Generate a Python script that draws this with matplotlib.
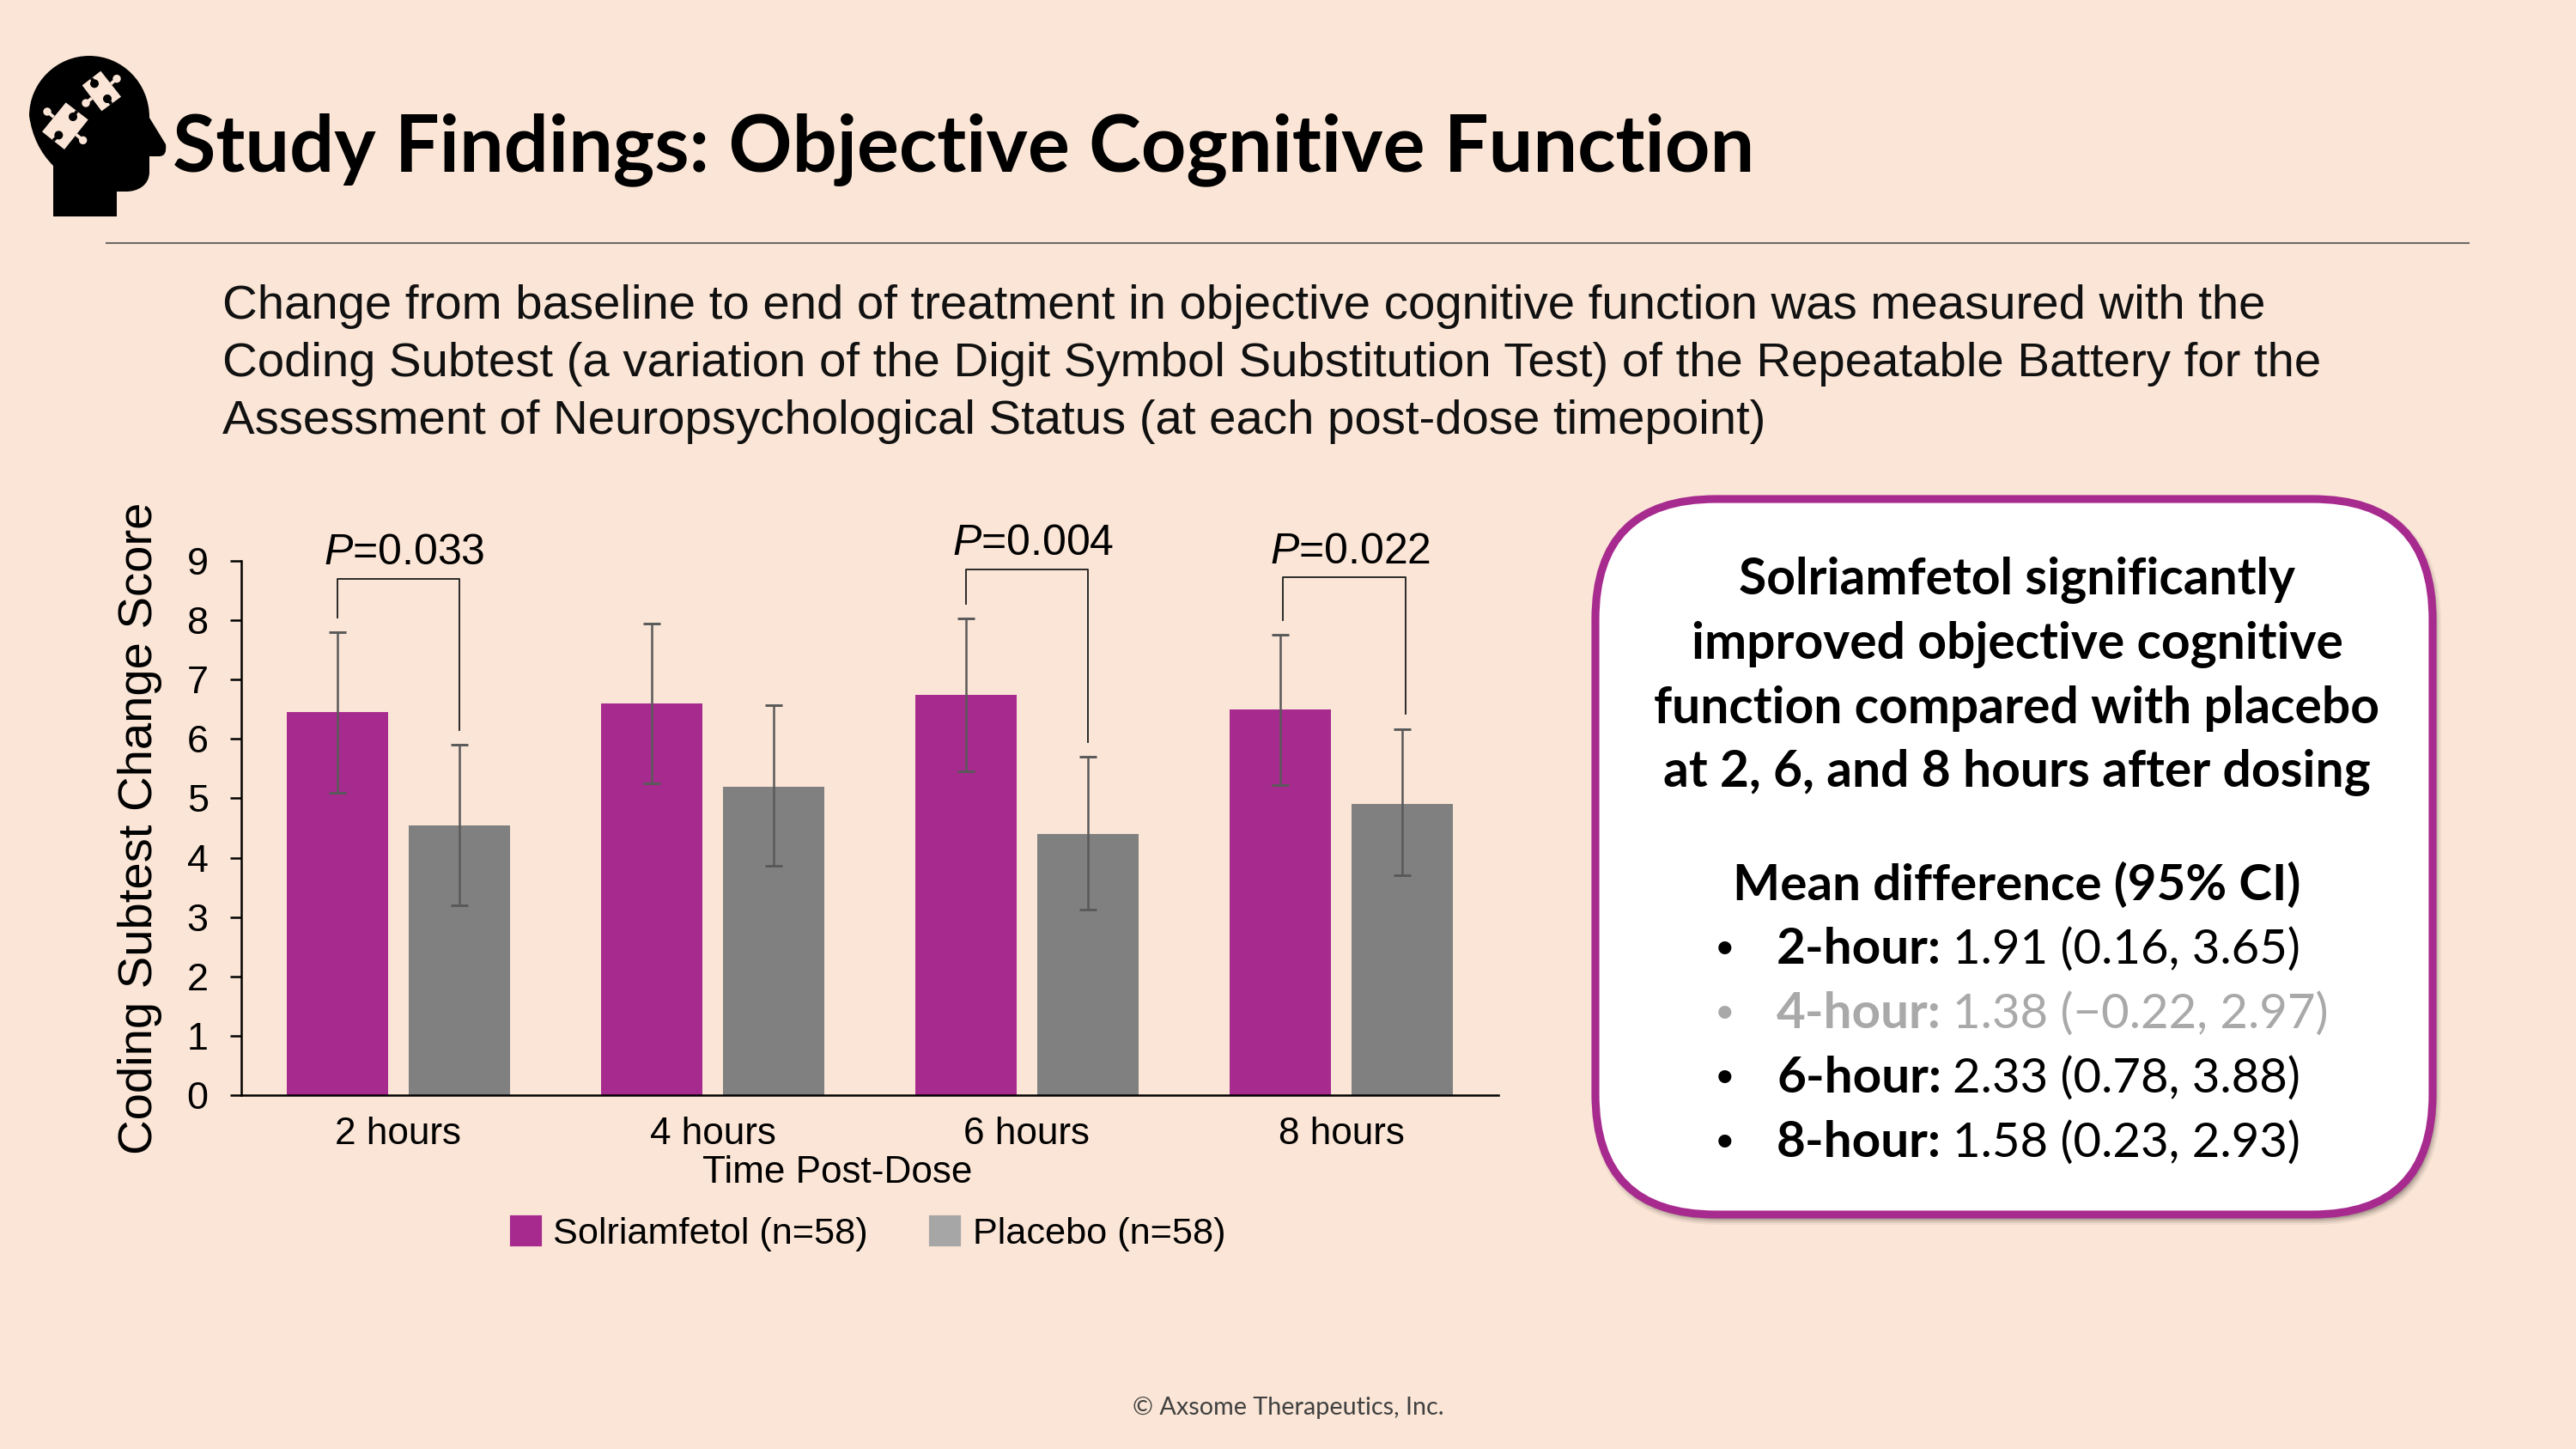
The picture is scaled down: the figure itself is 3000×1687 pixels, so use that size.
import matplotlib
matplotlib.use('Agg')
import matplotlib.pyplot as plt
from matplotlib.patches import FancyBboxPatch, PathPatch, Patch, Polygon, Circle
from matplotlib.path import Path

# data
hours = ['2 hours', '4 hours', '6 hours', '8 hours']
solri = [6.45, 6.6, 6.75, 6.5]
solri_lo = [5.1, 5.25, 5.45, 5.22]
solri_hi = [7.8, 7.95, 8.03, 7.75]
plac = [4.55, 5.2, 4.4, 4.9]
plac_lo = [3.2, 3.87, 3.13, 3.7]
plac_hi = [5.9, 6.57, 5.7, 6.17]

# which groups have a bracket: group index, p label, bracket top
sig_groups = [0, 2, 3]
sig_p = ['=0.033', '=0.004', '=0.022']
sig_top = [8.7, 8.86, 8.72]

diff_labels = ['2-hour:', '4-hour:', '6-hour:', '8-hour:']
diff_values = ['1.91 (0.16, 3.65)', '1.38 (\u22120.22, 2.97)', '2.33 (0.78, 3.88)', '1.58 (0.23, 2.93)']
diff_colors = ['black', '#A9A9A9', 'black', 'black']

body_lines = ['Change from baseline to end of treatment in objective cognitive function was measured with the',
              'Coding Subtest (a variation of the Digit Symbol Substitution Test) of the Repeatable Battery for the',
              'Assessment of Neuropsychological Status (at each post-dose timepoint)']
card_lines = ['Solriamfetol significantly', 'improved objective cognitive',
              'function compared with placebo', 'at 2, 6, and 8 hours after dosing']

BG = '#FAE5D6'
PURPLE = '#A72A8E'
GREY = '#808080'
W, H = 3000, 1687
ARIAL = 'Liberation Sans'
CALIBRI = 'Lato'

plt.rcParams['mathtext.fontset'] = 'custom'
plt.rcParams['mathtext.it'] = 'Liberation Sans:italic'
plt.rcParams['mathtext.rm'] = 'Liberation Sans'

fig = plt.figure(figsize=(10, H / 300), dpi=300, facecolor=BG)

# full figure layer in pixel coordinates for slide furniture
bg = fig.add_axes([0, 0, 1, 1])
bg.set_xlim(0, W)
bg.set_ylim(H, 0)
bg.axis('off')

bg.text(201, 199, 'Study Findings: Objective Cognitive Function', family=CALIBRI, weight='bold',
        fontsize=22.03, color='black', va='baseline')
bg.plot([124, 2875], [283, 283], color='#6E6A66', lw=0.5)

for line, y in zip(body_lines, [371, 438, 505]):
    bg.text(259, y, line, family=ARIAL, fontsize=13.53, color='#111111', va='baseline')

bg.text(1500, 1647, '\u00a9 Axsome Therapeutics, Inc.', family=CALIBRI, fontsize=6.9,
        color='#404040', ha='center', va='baseline')

# head icon
verts = [(62, 252), (62, 193), (39, 170), (34, 135), (34, 96), (66, 65), (104, 65), (142, 65), (174, 96), (174, 137),
         (193, 168), (195, 182), (185, 182), (174, 182), (174, 200), (174, 216), (160, 223), (147, 223),
         (136, 223), (136, 252), (62, 252)]
codes = [Path.MOVETO, Path.LINETO, Path.CURVE3, Path.CURVE3, Path.CURVE4, Path.CURVE4, Path.CURVE4, Path.CURVE4,
         Path.CURVE4, Path.CURVE4, Path.LINETO, Path.CURVE3, Path.CURVE3, Path.LINETO, Path.LINETO, Path.CURVE4,
         Path.CURVE4, Path.CURVE4, Path.LINETO, Path.LINETO, Path.CLOSEPOLY]
bg.add_patch(PathPatch(Path(verts, codes), fc='black', ec='none'))


def z(p):
    return (p[0] / 3 + 30, p[1] / 3 + 70)


pieces = [
    ([(262, 38), (333, 128), (265, 178), (197, 88)],
     [((318, 65), (297, 83)), ((210, 150), (231, 133))],
     [((240, 82), (230, 63)), ((285, 135), (299, 153))]),
    ([(140, 148), (218, 208), (135, 312), (57, 250)],
     [((75, 180), (98, 199)), ((200, 280), (176, 260))],
     [((165, 198), (179, 178)), ((115, 262), (96, 281))]),
]
for corners, tabs, notches in pieces:
    bg.add_patch(Polygon([z(c) for c in corners], fc=BG, ec='none'))
    for c, m in tabs:
        bg.add_patch(Circle(z(c), 4.7, fc=BG, ec='none'))
        bg.plot([z(c)[0], z(m)[0]], [z(c)[1], z(m)[1]], color=BG, lw=0.9, solid_capstyle='butt')
    for c, m in notches:
        bg.plot([z(c)[0], z(m)[0]], [z(c)[1], z(m)[1]], color='black', lw=0.9, solid_capstyle='butt')
        bg.add_patch(Circle(z(c), 5.0, fc='black', ec='none', zorder=3))

# callout card, a few stacked layers stand in for the soft shadow
for grow, alpha in [(7, 0.08), (5, 0.12), (3, 0.2), (1, 0.3)]:
    bg.add_patch(FancyBboxPatch((1861 - grow, 586 - grow), 975 + 2 * grow, 833 + 2 * grow,
                                boxstyle='round,pad=0,rounding_size=%d' % (140 + grow),
                                fc='#6E655E', ec='none', alpha=alpha))
bg.add_patch(FancyBboxPatch((1858, 581), 975, 833, boxstyle='round,pad=0,rounding_size=140',
                            fc='white', ec=PURPLE, lw=2.2))
for line, y in zip(card_lines, [692, 767, 842, 916]):
    bg.text(2349, y, line, family=CALIBRI, weight='bold', fontsize=14.1, ha='center', va='baseline')
bg.text(2349, 1048, 'Mean difference (95% CI)', family=CALIBRI, weight='bold', fontsize=14.0,
        ha='center', va='baseline')
for lab, val, col, y in zip(diff_labels, diff_values, diff_colors, [1122, 1197, 1272, 1347]):
    bg.text(2009, y, '\u2022', family=ARIAL, fontsize=13.4, color=col, ha='center', va='baseline')
    bg.text(2069, y, lab, family=CALIBRI, weight='bold', fontsize=14.0, color=col, va='baseline')
    bg.text(2274, y, val, family=CALIBRI, fontsize=13.5, color=col, va='baseline')

# bar chart
ax = fig.add_axes([281 / W, 1 - 1275 / H, 1464 / W, 622 / H])
ax.patch.set_alpha(0)
x = list(range(len(hours)))
off = 0.195
bw = 0.323
x1 = [i - off for i in x]
x2 = [i + off for i in x]
err1 = [[s - l for s, l in zip(solri, solri_lo)], [h - s for s, h in zip(solri, solri_hi)]]
err2 = [[s - l for s, l in zip(plac, plac_lo)], [h - s for s, h in zip(plac, plac_hi)]]
ekw = dict(ecolor='#595959', elinewidth=0.6, capsize=2.3, capthick=0.7)
ax.bar(x1, solri, bw, color=PURPLE, yerr=err1, error_kw=ekw)
ax.bar(x2, plac, bw, color=GREY, yerr=err2, error_kw=ekw)

ax.set_xlim(-0.5, 3.5)
ax.set_ylim(0, 9)
ax.set_yticks(range(10))
ax.set_xticks(x)
ax.set_xticklabels(hours, family=ARIAL, fontsize=10.6)
for t in ax.get_yticklabels():
    t.set_family(ARIAL)
    t.set_fontsize(10.8)
ax.tick_params(axis='y', length=3.2, width=0.6, pad=6)
ax.tick_params(axis='x', length=0, pad=6)
ax.spines[['top', 'right']].set_visible(False)
ax.spines[['left', 'bottom']].set_linewidth(0.6)
ax.set_xlabel('Time Post-Dose', family=ARIAL, fontsize=10.6, labelpad=0.9)
ax.xaxis.label.set_x(0.474)
ax.set_ylabel('Coding Subtest Change Score', family=ARIAL, fontsize=13.5)
ax.yaxis.set_label_coords(-0.063, 0.5)

# significance brackets, legs stop just above the error caps
for g, p, top in zip(sig_groups, sig_p, sig_top):
    nudge = 0.01 if g == 3 else 0
    ax.plot([x1[g] + nudge, x1[g] + nudge, x2[g] + nudge, x2[g] + nudge],
            [solri_hi[g] + 0.25, top, top, plac_hi[g] + 0.25], color='#222222', lw=0.45, clip_on=False)
    ax.annotate(r'$\mathit{P}$' + p, xy=(g + nudge, top), xytext=(1.6, 1.6), textcoords='offset points',
                family=ARIAL, fontsize=12, ha='center', va='bottom')

ax.legend(handles=[Patch(color=PURPLE, label='Solriamfetol (n=58)'), Patch(color='#A6A6A6', label='Placebo (n=58)')],
          loc='upper center', bbox_to_anchor=(0.499, -0.165), ncols=2, frameon=False, handlelength=0.76,
          handleheight=0.76, handletextpad=0.35, columnspacing=1.7, prop=dict(family=ARIAL, size=10.4))

fig.savefig('out.png', dpi=300, facecolor=BG)
